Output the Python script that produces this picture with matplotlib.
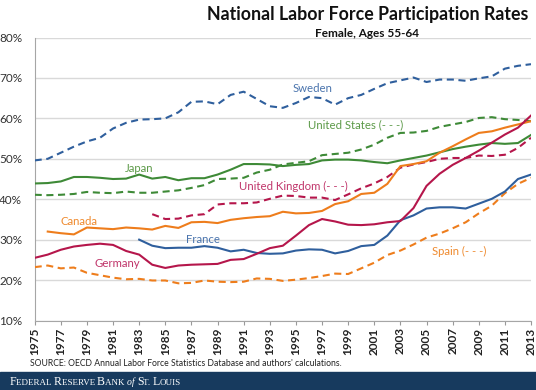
#!/usr/bin/env python3
"""Female labor force participation, ages 55-64, selected OECD countries."""
import matplotlib
matplotlib.use("Agg")
import matplotlib.pyplot as plt
import numpy as np

YEARS = np.arange(1975, 2014)

# values in percent
sweden = [49.6, 50.0, 51.5, 53.0, 54.3, 55.2, 57.5, 58.9, 59.7, 59.8,
          60.0, 61.5, 64.1, 64.2, 63.5, 65.8, 66.6, 64.8, 63.0, 62.6,
          63.8, 65.3, 65.0, 63.4, 65.0, 65.8, 67.3, 68.7, 69.4, 70.1,
          69.0, 69.6, 69.6, 69.3, 69.9, 70.4, 72.3, 73.0, 73.4]
united_states = [41.1, 41.0, 41.1, 41.3, 41.8, 41.6, 41.5, 41.9, 41.6, 41.6,
                 41.9, 42.2, 42.8, 43.5, 45.0, 45.1, 45.3, 46.6, 47.3, 48.6,
                 49.0, 49.4, 50.9, 51.2, 51.5, 52.3, 53.5, 55.2, 56.4, 56.5,
                 56.9, 57.9, 58.5, 59.1, 60.1, 60.3, 59.8, 59.6, 59.3]
japan = [43.9, 44.0, 44.4, 45.5, 45.5, 45.3, 45.0, 45.1, 46.1, 45.1,
         45.5, 44.7, 45.2, 45.2, 46.1, 47.3, 48.7, 48.7, 48.6, 48.2,
         48.5, 48.7, 49.6, 49.8, 49.8, 49.6, 49.2, 48.9, 49.6, 50.2,
         50.8, 51.6, 52.4, 53.0, 53.5, 53.9, 53.7, 53.9, 55.9]
united_kingdom = [None] * 9 + [
    36.3, 35.1, 35.2, 36.0, 36.3, 38.7, 39.0, 39.0, 39.2, 40.1,
    40.9, 40.8, 40.4, 40.4, 39.8, 41.2, 42.7, 43.9, 45.5, 47.8,
    48.6, 49.2, 50.0, 50.2, 50.2, 50.8, 50.7, 51.0, 52.7, 55.2]
canada = [None] + [
    32.0, 31.6, 31.3, 33.0, 32.8, 32.6, 33.0, 32.8, 32.5, 33.4,
    32.9, 34.3, 34.4, 34.1, 34.9, 35.3, 35.6, 35.8, 36.9, 36.5,
    36.6, 37.1, 38.8, 39.5, 41.3, 41.6, 43.8, 48.2, 48.7, 49.4,
    51.5, 53.1, 54.8, 56.4, 56.8, 57.7, 58.5, 59.3]
france = [None] * 8 + [
    30.0, 28.5, 27.9, 28.0, 28.0, 28.4, 28.0, 27.1, 27.5, 26.7,
    26.5, 26.6, 27.3, 27.6, 27.5, 26.6, 27.2, 28.4, 28.7, 31.0,
    34.8, 36.0, 37.7, 38.0, 38.0, 37.7, 38.9, 40.1, 41.9, 45.0, 46.1]
germany = [25.5, 26.3, 27.5, 28.3, 28.7, 29.0, 28.7, 27.2, 26.3, 23.8,
           23.0, 23.6, 23.8, 23.9, 24.0, 25.0, 25.2, 26.5, 27.9, 28.5,
           31.0, 33.6, 35.1, 34.5, 33.7, 33.6, 33.8, 34.3, 34.6, 37.8,
           43.3, 46.3, 48.5, 50.2, 52.0, 54.0, 56.0, 57.7, 60.7]
spain = [23.2, 23.6, 22.9, 23.1, 21.8, 21.2, 20.6, 20.2, 20.3, 19.9,
         19.9, 19.2, 19.3, 19.9, 19.6, 19.5, 19.6, 20.4, 20.3, 19.8,
         20.1, 20.5, 21.0, 21.6, 21.5, 22.9, 24.3, 26.2, 27.3, 28.8,
         30.5, 31.5, 32.8, 34.3, 36.5, 38.4, 41.5, 43.8, 45.3]

BLUE = "#2f5f9d"
GREEN = "#3e8a37"
RED = "#b5164b"
ORANGE = "#ee7d1c"
NAVY = "#173a5e"

FONT = ["Lato", "DejaVu Sans"]


def arr(vals):
    return np.array([np.nan if v is None else v for v in vals], dtype=float)


def main() -> None:
    plt.rcParams["font.family"] = FONT
    fig = plt.figure(figsize=(5.36, 3.90), dpi=100)
    ax = fig.add_axes([0.0647, 0.1782, 0.9260, 0.7256])

    dash = (0, (3.4, 2.2))
    series = [
        (sweden, BLUE, dash),
        (united_states, GREEN, dash),
        (japan, GREEN, "-"),
        (united_kingdom, RED, dash),
        (canada, ORANGE, "-"),
        (spain, ORANGE, dash),
        (france, BLUE, "-"),
        (germany, RED, "-"),
    ]
    for vals, color, ls in series:
        ax.plot(YEARS, arr(vals), color=color, ls=ls, lw=1.5, zorder=3)

    labels = [
        ("Sweden", 1996.3, 67.3, "#4a74ad"),
        ("United States (- - -)", 1999.6, 58.5, "#5c9a48"),
        ("Japan", 1983.0, 47.5, "#5c9a48"),
        ("United Kingdom (- - -)", 1994.8, 43.2, "#c0356a"),
        ("Canada", 1978.4, 34.4, "#ef8a2e"),
        ("France", 1987.9, 30.0, "#4a74ad"),
        ("Germany", 1981.3, 24.1, "#c0356a"),
        ("Spain (- - -)", 2007.5, 27.0, "#ef8a2e"),
    ]
    for text, x, y, color in labels:
        ax.text(x, y, text, color=color, fontsize=8.2, ha="center", va="center", zorder=4)

    ax.set_xlim(1975, 2013)
    ax.set_ylim(10, 80)
    ax.set_yticks(np.arange(10, 81, 10))
    ax.set_yticklabels([f"{v}%" for v in range(10, 81, 10)], fontsize=8.5, color="#333333")
    ax.set_xticks(np.arange(1975, 2014, 2))
    ax.set_xticklabels([str(y) for y in range(1975, 2014, 2)], rotation=90,
                       fontsize=8.5, fontweight="bold", color="#222222")
    ax.tick_params(axis="y", length=0, pad=9)
    ax.tick_params(axis="x", length=3, color="#999999", pad=2)
    ax.grid(axis="y", color="#d9d9d9", lw=1)
    ax.set_axisbelow(True)
    for side in ("top", "right"):
        ax.spines[side].set_visible(False)
    for side in ("left", "bottom"):
        ax.spines[side].set_color("#a6a6a6")

    fig.text(0.985, 0.962, "National Labor Force Participation Rates", ha="right", va="center",
             fontsize=12.8, fontweight="bold", color="#111111")
    fig.text(0.685, 0.915, "Female, Ages 55-64", ha="center", va="center",
             fontsize=8.5, fontweight="bold", color="#111111")
    fig.text(0.056, 0.067, "SOURCE: OECD Annual Labor Force Statistics Database and authors' calculations.",
             ha="left", va="center", fontsize=6.2, color="#222222")

    # footer band with small-caps style wordmark
    fig.patches.append(plt.Rectangle((0, 0), 1, 0.046, transform=fig.transFigure,
                                     color=NAVY, zorder=0))
    pieces = [("F", 8.5, "normal"), ("EDERAL ", 6.5, "normal"), ("R", 8.5, "normal"),
              ("ESERVE ", 6.5, "normal"), ("B", 8.5, "normal"), ("ANK ", 6.5, "normal"),
              ("of ", 7, "italic"), ("S", 8.5, "normal"), ("T. ", 6.5, "normal"),
              ("L", 8.5, "normal"), ("OUIS", 6.5, "normal")]
    footer = [fig.text(0.018, 0.013, txt, fontsize=size, style=style, color="white",
                       family="Liberation Serif", va="baseline", ha="left")
              for txt, size, style in pieces]

    # chain the pieces left to right once their widths are known
    fig.canvas.draw()
    renderer = fig.canvas.get_renderer()
    x_px = footer[0].get_window_extent(renderer).x1
    for t in footer[1:]:
        t.set_position((x_px / fig.bbox.width, 0.013))
        x_px = t.get_window_extent(renderer).x1

    fig.savefig("out.png", dpi=100)
    plt.close(fig)


if __name__ == "__main__":
    main()
